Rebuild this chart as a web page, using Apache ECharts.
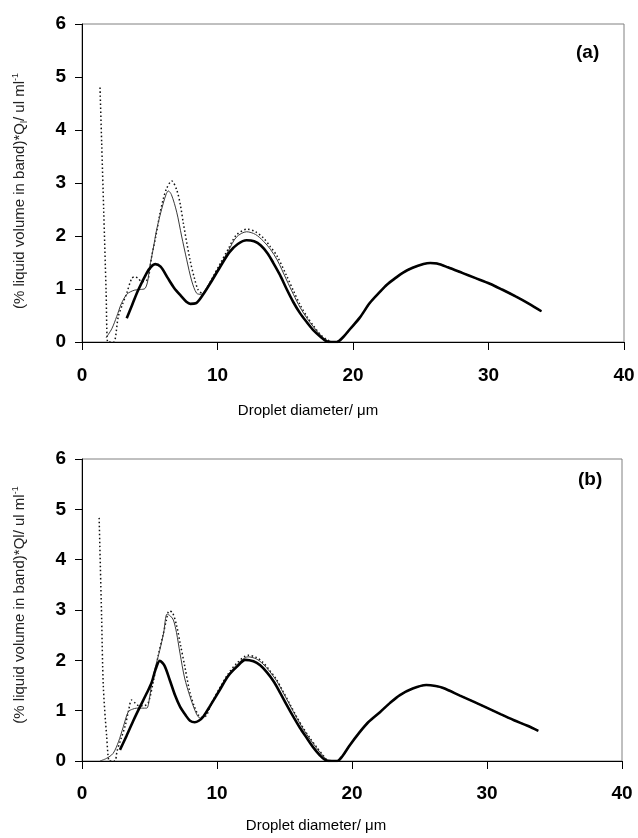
<!DOCTYPE html>
<html><head><meta charset="utf-8">
<script src="https://cdn.jsdelivr.net/npm/echarts@6/dist/echarts.min.js"></script>
<style>html,body{margin:0;padding:0;background:#fff}#c{width:638px;height:838px}</style>
</head><body><div id="c"></div>
<script>
const xTicks = [0, 10, 20, 30, 40];
const yTicks = [0, 1, 2, 3, 4, 5, 6];
const xTitle = 'Droplet diameter/ \u03bcm';

// ---- Panel (a) ----
const tailAX = [19.3, 19.8, 20.5, 21.25, 22.0, 22.5, 23.1, 23.7, 24.4, 25.2, 25.7, 26.2, 27.0, 28.1, 29.0, 30.1, 31.0, 32.0, 33.0, 33.9];
const tailAY = [0.1, 0.25, 0.46, 0.74, 0.95, 1.08, 1.2, 1.31, 1.4, 1.47, 1.49, 1.48, 1.41, 1.3, 1.21, 1.1, 0.99, 0.86, 0.72, 0.58];
const thickAX = [3.3, 3.7, 4.15, 4.77, 5.1, 5.4, 5.8, 6.3, 6.8, 7.3, 7.7, 8.0, 8.4, 8.9, 9.5, 10.2, 10.9, 11.5, 12.15, 12.7, 13.2, 13.7, 14.1, 14.6, 15.1, 15.6, 16.1, 16.6, 17.05, 17.6, 18.05, 18.4, 18.8];
const thickAY = [0.45, 0.7, 0.98, 1.3, 1.42, 1.47, 1.42, 1.22, 1.02, 0.87, 0.76, 0.72, 0.73, 0.88, 1.12, 1.42, 1.7, 1.85, 1.92, 1.9, 1.82, 1.67, 1.5, 1.27, 1.0, 0.75, 0.54, 0.37, 0.23, 0.1, 0.01, 0, 0];
const thinAX = [1.78, 2.2, 2.56, 2.9, 3.3, 3.6, 3.9, 4.3, 4.65, 4.85, 5.0, 5.25, 5.5, 5.75, 6.0, 6.2, 6.37, 6.6, 6.99, 7.35, 7.73, 8.1, 8.46, 8.8, 9.08, 9.6, 10.2, 10.8, 11.4, 12.15, 12.8, 13.4, 13.9, 14.4, 15.1, 15.6, 16.1, 16.6, 17.1, 17.6, 18.1, 18.5, 18.8];
const thinAY = [0.08, 0.25, 0.48, 0.72, 0.9, 0.95, 0.98, 0.99, 1.01, 1.15, 1.42, 1.75, 2.11, 2.38, 2.62, 2.78, 2.85, 2.78, 2.45, 2.0, 1.55, 1.15, 0.92, 0.9, 0.98, 1.2, 1.45, 1.72, 1.98, 2.08, 2.03, 1.9, 1.75, 1.55, 1.17, 0.9, 0.65, 0.45, 0.28, 0.13, 0.03, 0, 0];
const dotAX = [1.33, 1.45, 1.6, 1.78, 1.9, 2.1, 2.35, 2.68, 3.0, 3.3, 3.67, 3.9, 4.15, 4.4, 4.7, 4.9, 5.14, 5.45, 5.76, 6.0, 6.25, 6.62, 6.99, 7.25, 7.48, 7.97, 8.3, 8.58, 8.9, 9.08, 9.6, 10.2, 10.8, 11.4, 12.2, 12.8, 13.4, 13.9, 14.4, 15.1, 15.6, 16.1, 16.6, 17.1, 17.6, 18.1, 18.5, 18.8];
const dotAY = [4.8, 3.77, 2.5, 0.95, 0, 0, 0, 0.48, 0.72, 0.92, 1.2, 1.23, 1.2, 1.14, 1.15, 1.21, 1.61, 2.0, 2.43, 2.7, 2.9, 3.04, 2.87, 2.6, 2.24, 1.55, 1.2, 0.98, 0.92, 0.95, 1.2, 1.48, 1.76, 2.02, 2.13, 2.08, 1.96, 1.8, 1.62, 1.25, 0.97, 0.7, 0.48, 0.3, 0.14, 0.04, 0, 0];

// ---- Panel (b) ----
const tailBX = [19.3, 19.85, 20.5, 21.2, 22.07, 22.8, 23.55, 24.5, 25.5, 26.2, 26.76, 28.0, 29.0, 29.97, 31.0, 32.0, 33.0, 33.8];
const tailBY = [0.1, 0.32, 0.55, 0.77, 0.97, 1.15, 1.31, 1.44, 1.51, 1.49, 1.45, 1.3, 1.18, 1.06, 0.93, 0.81, 0.7, 0.6];
const thickBX = [2.81, 3.3, 3.8, 4.3, 4.8, 5.16, 5.45, 5.76, 6.1, 6.5, 6.9, 7.26, 7.7, 8.0, 8.35, 8.65, 8.98, 9.5, 10.2, 10.8, 11.46, 12.1, 12.7, 13.2, 13.7, 14.2, 14.67, 15.15, 15.65, 16.14, 16.64, 17.1, 17.6, 18.1, 18.5, 18.9];
const thickBY = [0.22, 0.5, 0.8, 1.08, 1.35, 1.56, 1.82, 1.99, 1.9, 1.61, 1.3, 1.08, 0.9, 0.8, 0.77, 0.8, 0.88, 1.1, 1.41, 1.68, 1.87, 2.01, 1.98, 1.9, 1.76, 1.58, 1.36, 1.12, 0.88, 0.66, 0.46, 0.28, 0.12, 0.01, 0, 0];
const thinBX = [1.33, 1.8, 2.3, 2.7, 3.06, 3.43, 3.75, 4.05, 4.4, 4.79, 5.0, 5.16, 5.45, 5.76, 6.05, 6.3, 6.55, 6.77, 7.0, 7.26, 7.6, 8.0, 8.3, 8.6, 8.85, 9.1, 9.6, 10.2, 10.8, 11.5, 12.3, 12.9, 13.4, 13.9, 14.4, 14.9, 15.4, 15.9, 16.4, 16.9, 17.4, 17.9, 18.3, 18.9];
const thinBY = [0, 0.05, 0.15, 0.38, 0.68, 0.98, 1.03, 1.05, 1.05, 1.05, 1.25, 1.54, 1.88, 2.2, 2.55, 2.92, 2.88, 2.8, 2.55, 2.14, 1.65, 1.28, 1.05, 0.88, 0.85, 0.9, 1.13, 1.43, 1.7, 1.92, 2.07, 2.03, 1.93, 1.78, 1.6, 1.36, 1.11, 0.86, 0.63, 0.43, 0.25, 0.09, 0, 0];
const dotBX = [1.27, 1.45, 1.58, 1.83, 2.02, 2.2, 2.44, 2.6, 2.9, 3.2, 3.45, 3.67, 3.95, 4.2, 4.6, 4.9, 5.3, 5.65, 6.0, 6.25, 6.45, 6.7, 7.0, 7.3, 7.6, 8.0, 8.3, 8.6, 8.9, 9.2, 9.6, 10.2, 10.8, 11.5, 12.3, 12.9, 13.4, 13.9, 14.4, 14.9, 15.4, 15.9, 16.4, 16.9, 17.4, 17.9, 18.3, 18.9];
const dotBY = [4.83, 2.89, 1.48, 0.48, 0, 0, 0, 0.2, 0.45, 0.7, 1.0, 1.21, 1.15, 1.1, 1.1, 1.15, 1.6, 2.1, 2.5, 2.8, 2.98, 2.95, 2.7, 2.3, 1.9, 1.35, 1.1, 0.92, 0.87, 0.9, 1.15, 1.45, 1.72, 1.95, 2.1, 2.06, 1.96, 1.8, 1.62, 1.38, 1.13, 0.88, 0.65, 0.45, 0.27, 0.1, 0, 0];

const FONT = 'Liberation Sans, Arial, sans-serif';
const pts = (xs, ys, tx, ty) => xs.map((x, i) => [x, ys[i]]).concat(tx.map((x, i) => [x, ty[i]]));

function xAxisCfg(gi, margin) {
  return {
    gridIndex: gi, type: 'value', min: xTicks[0], max: xTicks[xTicks.length - 1], interval: xTicks[1] - xTicks[0],
    axisLine: { show: true, onZero: false, lineStyle: { color: '#000', width: 1 } },
    axisTick: { show: true, inside: false, length: 8, lineStyle: { color: '#000' } },
    axisLabel: { margin: margin, fontSize: 19, fontWeight: 'bold', color: '#000', fontFamily: FONT },
    splitLine: { show: false }
  };
}
function yAxisCfg(gi, name, pad) {
  return {
    gridIndex: gi, type: 'value', min: yTicks[0], max: yTicks[yTicks.length - 1], interval: yTicks[1] - yTicks[0],
    axisLine: { show: true, lineStyle: { color: '#000', width: 1 } },
    axisTick: { show: true, inside: false, length: 7, lineStyle: { color: '#000' } },
    axisLabel: { margin: 16, fontSize: 19, fontWeight: 'bold', color: '#000', fontFamily: FONT },
    splitLine: { show: false },
    name: name, nameLocation: 'middle', nameRotate: 90, nameGap: 53,
    nameTextStyle: {
      padding: pad,
      rich: {
        t: { fontSize: 15, fontFamily: FONT, color: '#222', lineHeight: 18 },
        s: { fontSize: 9, fontFamily: FONT, color: '#222', lineHeight: 9, verticalAlign: 'bottom' },
        p: { fontSize: 9, fontFamily: FONT, color: '#222', lineHeight: 9, verticalAlign: 'top' }
      }
    }
  };
}
const thickStyle = { color: '#000', width: 2.6 };
const thinStyle = { color: '#3a3a3a', width: 1 };
const dotStyle = { color: '#111', width: 1.5, type: [1.5, 2.5] };
function line(xi, data, style, z) {
  return { type: 'line', xAxisIndex: xi, yAxisIndex: xi, data: data, showSymbol: false, smooth: 0.3,
    lineStyle: style, z: z, silent: true, animation: false };
}

const chart = echarts.init(document.getElementById('c'), null, { renderer: 'canvas' });
chart.setOption({
  animation: false,
  backgroundColor: '#fff',
  grid: [
    { left: 82, top: 24, width: 542, height: 318, show: true, borderColor: '#808080', borderWidth: 1, backgroundColor: 'transparent' },
    { left: 82, top: 459, width: 540, height: 302, show: true, borderColor: '#808080', borderWidth: 1, backgroundColor: 'transparent' }
  ],
  xAxis: [xAxisCfg(0, 24), xAxisCfg(1, 23)],
  yAxis: [
    yAxisCfg(0, '{t|(% liquid volume in band)*Q}{s|l}{t|/ ul ml}{p|-1}', [0, 16, 0, 0]),
    yAxisCfg(1, '{t|(% liquid volume in band)*Ql/ ul ml}{p|-1}', [0, 0, 0, 10])
  ],
  series: [
    line(0, pts(dotAX, dotAY, tailAX, tailAY), dotStyle, 2),
    line(0, pts(thinAX, thinAY, tailAX, tailAY), thinStyle, 3),
    line(0, pts(thickAX, thickAY, tailAX, tailAY), thickStyle, 4),
    line(1, pts(dotBX, dotBY, tailBX, tailBY), dotStyle, 2),
    line(1, pts(thinBX, thinBY, tailBX, tailBY), thinStyle, 3),
    line(1, pts(thickBX, thickBY, tailBX, tailBY), thickStyle, 4)
  ],
  graphic: [
    { type: 'text', left: 576, top: 43, style: { text: '(a)', font: 'bold 19px ' + FONT, fill: '#000' } },
    { type: 'text', left: 578, top: 470, style: { text: '(b)', font: 'bold 19px ' + FONT, fill: '#000' } },
    { type: 'text', x: 308, y: 411, style: { text: xTitle, font: '15px ' + FONT, fill: '#000', align: 'center', verticalAlign: 'middle' } },
    { type: 'text', x: 316, y: 826, style: { text: xTitle, font: '15px ' + FONT, fill: '#000', align: 'center', verticalAlign: 'middle' } }
  ]
});
</script></body></html>
